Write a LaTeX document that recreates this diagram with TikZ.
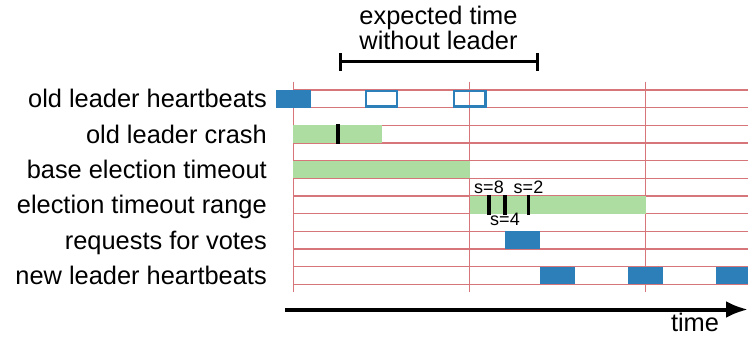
\documentclass[tikz,border=0pt]{standalone}
\usepackage{fontspec}
\setmainfont{Liberation Sans}
\usetikzlibrary{arrows.meta,positioning}
\definecolor{gridred}{RGB}{214,118,122}
\definecolor{beatblue}{RGB}{44,127,184}
\definecolor{timegreen}{RGB}{173,221,160}

\begin{document}
\begin{tikzpicture}[
    x=1pt, y=-1pt,
    rowlabel/.style={anchor=base east, inner sep=0pt, font=\fontsize{25.4}{30}\selectfont},
    slabel/.style={anchor=base, inner sep=0pt, font=\fontsize{18}{20}\selectfont},
    gridline/.style={draw=gridred, line width=1.3pt},
    beat/.style={fill=beatblue},
    missed/.style={draw=beatblue, line width=2.4pt},
    timespan/.style={fill=timegreen},
    marktick/.style={line width=3.5pt}
]
    \useasboundingbox (0,0) rectangle (748,337);

    % grid
    \foreach \k in {0,...,11}
        \draw[gridline] (293.3,90+17.67*\k) -- (748,90+17.67*\k);
    \foreach \x in {293.3,469.5,645.7}
        \draw[gridline] (\x,82) -- (\x,292);

    % row labels
    \node[rowlabel] (oldhb)   at (267,107.8) {old leader heartbeats};
    \node[rowlabel] (crash)   at (267,143.2) {old leader crash};
    \node[rowlabel] (base)    at (267,178.5) {base election timeout};
    \node[rowlabel] (range)   at (267,213.8) {election timeout range};
    \node[rowlabel] (votes)   at (267,249.2) {requests for votes};
    \node[rowlabel] (newhb)   at (267,284.5) {new leader heartbeats};

    % old leader heartbeats
    \fill[beat] (276,90) rectangle (311,107.7);
    \draw[missed] (365.9,91.2) rectangle (397.1,106.5);
    \draw[missed] (453.9,91.2) rectangle (485.5,106.5);

    % crash and timeouts
    \fill[timespan] (293.3,125.3) rectangle (381.5,143);
    \draw[marktick] (338,124) -- (338,144.5);
    \fill[timespan] (293.3,160.7) rectangle (469.5,178.3);
    \fill[timespan] (469.5,196) rectangle (645.7,213.7);
    \foreach \x in {489,505,528.5}
        \draw[marktick] (\x,195) -- (\x,214.5);
    \node[slabel] (s8) at (489,193.5) {s=8};
    \node[slabel] (s2) at (528.5,193.5) {s=2};
    \node[slabel] (s4) at (505,225) {s=4};

    % votes and new leader heartbeats
    \fill[beat] (505,231.3) rectangle (540,249);
    \foreach \x in {540,628,716}
        \fill[beat] (\x,266.7) rectangle (\x+35,284.3);

    % expected time without leader
    \node[anchor=south, inner sep=0pt, align=center, font=\fontsize{25.4}{23}\selectfont] (expected)
        at (438.5,50) {expected time\\without leader};
    \coordinate (gapstart) at (338.5,62);
    \coordinate (gapend) at (538.5,62);
    \draw[line width=3pt, {Bar[width=18pt]}-{Bar[width=18pt]}] (gapstart) -- (gapend);

    % time axis
    \coordinate (tstart) at (285,309.5);
    \coordinate (tend) at (748,309.5);
    \draw[line width=4pt, -{Latex[length=22pt,width=17pt]}] (tstart) -- (tend);
    \node[anchor=base, inner sep=0pt, font=\fontsize{25.4}{30}\selectfont] (timelbl) at (695,331.5) {time};
\end{tikzpicture}
\end{document}
